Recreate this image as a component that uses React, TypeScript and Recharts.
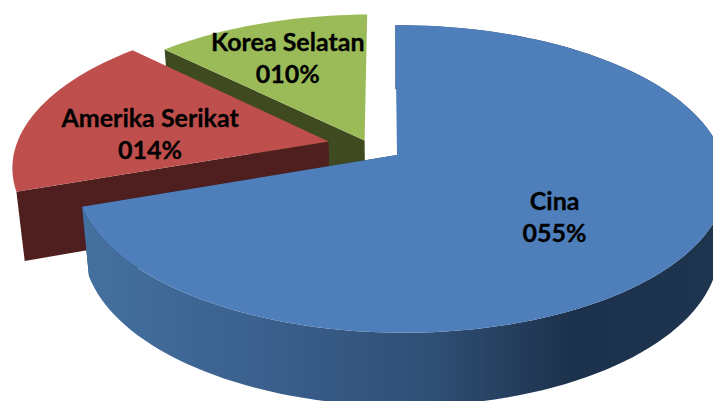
import { Pie, PieChart } from "recharts";

const categories = ["Korea Selatan", "Amerika Serikat", "Cina"];
const values = [10, 14, 55];
const valueLabels = ["010%", "014%", "055%"];

const faceColors = ["#9BBB59", "#BE4F4C", "#4F7FBA"];
const wallColors = ["#3F4A20", "#4F1F1F", "url(#cinaWall)"];
// how far each slice is pulled out of the pie, and where its label sits, in disc units
const explode = [
  [-0.102, -0.098],
  [-0.216, -0.092],
  [0, 0],
];
const labelSpots = [
  [-0.375, -0.711],
  [-0.792, -0.137],
  [0.456, 0.39],
];

const data = categories.map((name, i) => ({
  name,
  value: values[i],
  text: valueLabels[i],
  index: i,
}));

const WIDTH = 713;
const HEIGHT = 401;
const CX = 397;
const CY = 155;
const RX = 321;
const RY = 150;
const SKEW = 2;
const TILT = 0.156;
const TILT_SIDE = 0.012;
const DEPTH = 68;

// flat disc coordinates -> screen, with a bit of perspective
function project(u: number, v: number) {
  const w = 1 - TILT * v - TILT_SIDE * u;
  return { x: CX + (RX * u + SKEW * v) / w, y: CY + (RY * v) / w };
}

function lower(p: { x: number; y: number }) {
  return { x: CX + (p.x - CX) * 0.978, y: CY + (p.y - CY) * 1.03 + DEPTH };
}

function toPath(points: { x: number; y: number }[]) {
  return (
    "M" +
    points.map((p) => `${p.x.toFixed(1)},${p.y.toFixed(1)}`).join("L") +
    "Z"
  );
}

function Slice3D(props: any) {
  const { startAngle, endAngle, payload } = props;
  const i = payload?.index ?? props.index;
  const [du, dv] = explode[i];
  const apex = project(du, dv);
  const arc: { x: number; y: number }[] = [];
  const steps = Math.ceil(Math.abs(endAngle - startAngle) / 2);
  for (let s = 0; s <= steps; s++) {
    const a = ((startAngle + ((endAngle - startAngle) * s) / steps) * Math.PI) / 180;
    arc.push(project(du + Math.cos(a), dv - Math.sin(a)));
  }
  const first = arc[0];
  const last = arc[arc.length - 1];
  const isCina = i === 2;
  return (
    <g>
      <defs>
        <linearGradient id="cinaWall" gradientUnits="userSpaceOnUse" x1="85" y1="0" x2="713" y2="0">
          <stop offset="0%" stopColor="#44709F" />
          <stop offset="30%" stopColor="#3A5F8C" />
          <stop offset="55%" stopColor="#2F4F75" />
          <stop offset="78%" stopColor="#1C314B" />
          <stop offset="100%" stopColor="#1E344F" />
        </linearGradient>
      </defs>
      {isCina && <path d={toPath([apex, first, lower(first), lower(apex)])} fill="#1C314B" />}
      {!isCina && <path d={toPath([apex, last, lower(last), lower(apex)])} fill={wallColors[i]} />}
      {isCina && <path d={toPath([...arc, ...arc.map(lower).reverse()])} fill={wallColors[i]} />}
      <path d={toPath([apex, ...arc])} fill={faceColors[i]} />
    </g>
  );
}

function SliceLabel(props: any) {
  const i = props.payload?.index ?? props.index;
  const spot = project(labelSpots[i][0], labelSpots[i][1]);
  return (
    <text
      x={spot.x}
      y={spot.y}
      textAnchor="middle"
      fontFamily="Lato, sans-serif"
      fontWeight={700}
      fontSize={25}
      fill="#000"
      stroke="#000"
      strokeWidth={0.3}
    >
      <tspan x={spot.x} dy={-8}>
        {props.name}
      </tspan>
      <tspan x={spot.x} dy={32}>
        {props.payload?.text}
      </tspan>
    </text>
  );
}

export default function App() {
  return (
    <div style={{ position: "absolute", left: 0, top: 0, width: WIDTH, height: HEIGHT, background: "#fff" }}>
      <PieChart width={WIDTH} height={HEIGHT} margin={{ top: 0, right: 0, bottom: 0, left: 0 }}>
        {/* counter-clockwise so that Cina is painted last, over the other two */}
        <Pie
          data={data}
          dataKey="value"
          nameKey="name"
          cx={CX}
          cy={CY}
          outerRadius={RX}
          startAngle={90}
          endAngle={450}
          stroke="none"
          shape={Slice3D}
          label={SliceLabel}
          labelLine={false}
          isAnimationActive={false}
        />
      </PieChart>
    </div>
  );
}
